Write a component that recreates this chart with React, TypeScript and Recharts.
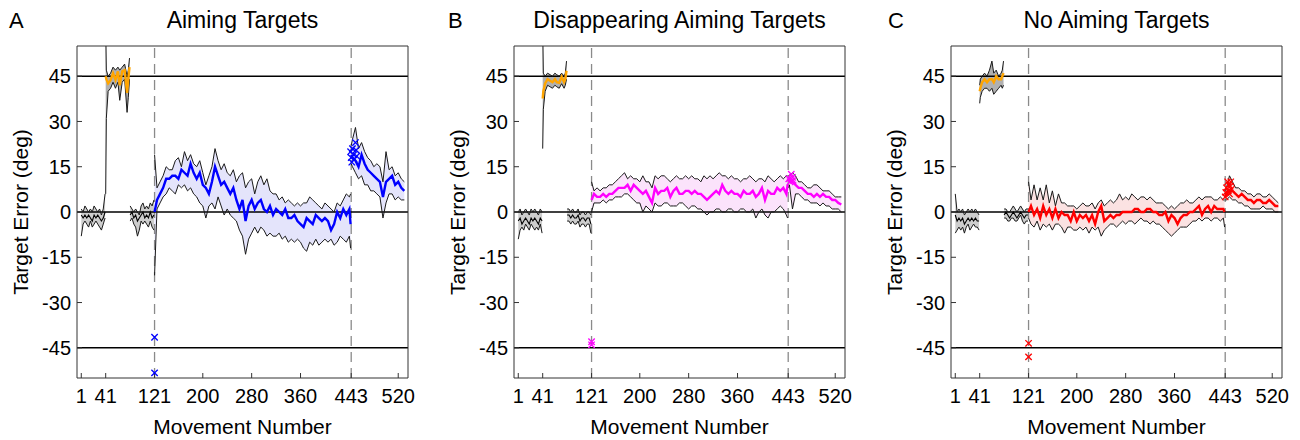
import {
  Area,
  ComposedChart,
  Line,
  ReferenceLine,
  Scatter,
  XAxis,
  YAxis,
} from "recharts";

const FONT = "'Liberation Sans', Arial, Helvetica, sans-serif";

const movementTicks = [1, 41, 121, 200, 280, 360, 443, 520];
const errorTicks = [-45, -30, -15, 0, 15, 30, 45];

// movement numbers sampled in each phase
const base1X = [1, 4, 7, 10, 13, 16, 19, 22, 25, 28, 31, 34, 37, 40];
const aimX = [41, 42, 45, 49, 53, 57, 61, 64, 68, 72, 76, 78, 80];
const base2X = [81, 84, 87, 90, 93, 96, 99, 102, 105, 108, 111, 114, 117, 120];
const rotX = [
  121, 125, 130, 135, 140, 145, 150, 155, 160, 165,
  170, 175, 180, 185, 190, 195, 200, 205, 210, 215,
  220, 225, 230, 235, 240, 245, 250, 255, 260, 265,
  270, 275, 280, 285, 290, 295, 300, 305, 310, 315,
  320, 325, 330, 335, 340, 345, 350, 355, 360, 365,
  370, 375, 380, 385, 390, 395, 400, 405, 410, 415,
  420, 425, 430, 435, 440, 442,
];
const washX = [443, 445, 450, 455, 460, 465, 470, 475, 480, 485, 490, 495, 500, 505, 510, 515, 520, 525, 530];

// ---- A: Aiming Targets ----
const aBase1Mean = [-1, -2, -1, -2, -1, -2, -3, -1, -2, -1, -2, -3, -2, 0];
const aBase1Hi = [1, 0, 2, 1, 0, 1, 0, 2, 1, 0, 1, -1, 1, 6];
const aBase1Lo = [-8, -4, -3, -4, -5, -3, -5, -4, -3, -4, -5, -6, -4, -2];
const aAimMean = [45, 44, 42.6, 43.7, 46, 43.7, 46.6, 42, 46.6, 47, 39.5, 44, 48];
const aAimHi = [62, 47, 45, 46, 48, 47, 48, 47, 48, 49, 45, 47, 51];
const aAimLo = [6, 31, 40, 41, 43, 41, 43, 37, 43, 44, 33, 38, 44];
const aBase2Mean = [-1, 0, -2, -1, -3, -2, -1, 0, -2, -1, -2, 0, -2, -1];
const aBase2Hi = [2, 1, 0, 1, 0, -1, 2, 3, 1, 2, 1, 3, 2, 4];
const aBase2Lo = [-3, -2, -4, -5, -8, -6, -3, -4, -3, -4, -5, -3, -5, -6];
const aRotMean = [
  0, 4, 6, 8, 11, 11, 12, 12, 11, 14,
  13, 12, 16, 13, 11, 13, 9, 8, 6, 10,
  15, 12, 9, 10, 8, 6, 8, 4, 1, 4,
  -3, 2, 4, 1, 3, 4, 1, 0, 2, -1,
  1, 0, -1, 1, -2, -2, -1, -3, -4, -5,
  -2, -3, -4, -1, -2, -3, -2, -3, -6, -4,
  0, -2, 1, -1, 1, -4,
];
const aRotHi = [
  19, 8, 10, 12, 15, 14, 14, 17, 18, 15,
  20, 17, 19, 16, 15, 17, 13, 9, 12, 15,
  21, 17, 14, 16, 13, 12, 14, 10, 12, 13,
  8, 10, 11, 6, 10, 12, 9, 11, 7, 6,
  6, 4, 5, 3, 4, 3, 2, 3, 2, 3,
  3, 5, 4, 3, 2, 1, 3, 2, 1, 0,
  3, 2, 4, 6, 5, 6,
];
const aRotLo = [
  -21, 1, 3, 5, 6, 8, 7, 6, 9, 8,
  9, 7, 8, 6, 5, 3, 2, -2, 2, 3,
  1, 5, 2, -1, 1, -1, -2, -3, -6, -8,
  -14, -9, -7, -5, -7, -5, -6, -8, -7, -8,
  -8, -7, -9, -8, -10, -9, -10, -9, -10, -12,
  -13, -10, -11, -9, -11, -10, -9, -10, -9, -11,
  -10, -8, -9, -10, -8, -12,
];
const aWashMean = [19, 18, 17, 15, 19, 16, 14, 13, 12, 11, 10, 5, 10, 11, 12, 9, 10, 8, 7];
const aWashHi = [22, 24, 28, 21, 23, 20, 18, 17, 15, 16, 15, 10, 20, 14, 15, 12, 13, 11, 10];
const aWashLo = [16, 15, 13, 11, 12, 9, 9, 7, 7, 6, 5, -2, 3, 6, 6, 4, 5, 4, 4];
const aMarkX = [121, 121, 442, 443, 444, 445, 447, 448, 450, 451, 452];
const aMarkY = [-41.5, -53.3, 20, 18, 16.5, 21, 19, 17.5, 23, 20.5, 18.5];

// ---- B: Disappearing Aiming Targets ----
const bBase1Mean = [-3, -2, -4, -3, -2, -3, -4, -2, -3, -2, -3, -4, -2, -3];
const bBase1Hi = [0, 1, -1, 0, 1, 0, -1, 1, 0, 1, 0, -1, 1, 0];
const bBase1Lo = [-9, -6, -5, -6, -4, -5, -6, -4, -5, -6, -5, -6, -4, -7];
const bAimMean = [37.6, 40, 42.6, 44, 43.5, 43, 44, 43, 42.8, 44.8, 43, 44, 46.8];
const bAimHi = [62, 46, 45, 46, 45.5, 45, 46, 45.5, 45, 46, 45, 46, 50];
const bAimLo = [21, 34, 40, 42, 41.5, 41, 42, 41.5, 41, 42.5, 41, 42, 44];
const bBase2Mean = [-1, -1, -2, -1, -2, -2, -1, -3, -2, -2, -3, -2, -2, -4];
const bBase2Hi = [1, 1, 0, 1, 0, 0, 1, -1, 0, 0, -1, 0, 0, -1];
const bBase2Lo = [-3, -3, -4, -3, -4, -4, -3, -5, -4, -4, -5, -4, -4, -7];
const bRotMean = [
  4, 6, 5, 5, 6, 5, 6, 6, 7, 8,
  8, 8, 9, 7, 9, 8, 7, 6, 7, 5,
  3, 8, 6, 7, 7, 8, 5, 7, 8, 6,
  6, 7, 7, 6, 7, 6, 6, 5, 4, 5,
  6, 7, 6, 9, 7, 6, 7, 6, 6, 5,
  7, 6, 6, 7, 5, 6, 8, 4, 7, 6,
  6, 8, 7, 8, 6, 9,
];
const bRotHi = [
  10, 7, 8, 7, 8, 8, 9, 9, 10, 11,
  12, 13, 11, 12, 11, 11, 10, 12, 10, 10,
  8, 12, 11, 12, 12, 11, 10, 11, 12, 11,
  11, 12, 11, 12, 11, 11, 10, 12, 11, 12,
  11, 12, 13, 12, 12, 11, 12, 11, 11, 10,
  11, 11, 12, 11, 10, 11, 11, 10, 12, 11,
  10, 11, 12, 11, 12, 12,
];
const bRotLo = [
  0, 3, 3, 3, 4, 3, 4, 4, 5, 5,
  5, 6, 6, 5, 4, 3, 3, 0, 2, 1,
  0, 3, 2, 2, 3, 3, 2, 2, 2, 3,
  3, 2, 1, 2, 2, 1, 1, 0, -1, 0,
  0, 1, 1, 0, 0, 1, 1, 0, 0, 1,
  1, 0, 0, 1, -2, 0, 1, -1, -2, 0,
  0, 1, 2, 1, -1, -2,
];
const bWashMean = [10, 11, 10, 9, 8, 8, 7, 6, 6, 5, 6, 5, 6, 5, 5, 4, 4, 3, 2.5];
const bWashHi = [12, 12, 13, 12, 10, 10, 9, 8, 8, 9, 9, 8, 7, 7, 7, 6, 5, 5, 5];
const bWashLo = [8, 9, 1, 6, 6, 5, 4, 4, 3, 3, 3, 2, 3, 2, 2, 1, 1, 1, 0];
const bMarkX = [121, 121, 444, 446, 448, 450, 451];
const bMarkY = [-43, -44, 11, 10, 12.5, 11.5, 10.5];

// ---- C: No Aiming Targets ----
const cBase1Mean = [-1, -3, -2, -3, -2, -4, -3, -2, -3, -2, -3, -2, -3, -3];
const cBase1Hi = [6, 0, 1, 0, 1, -1, 0, 1, 0, 1, 0, 1, 0, -1];
const cBase1Lo = [-7, -6, -5, -6, -5, -7, -5, -4, -6, -5, -4, -5, -5, -6];
const cAimMean = [40, 41, 43, 44, 43, 44, 44, 43, 45, 44, 44, 45, 46];
const cAimHi = [42, 44, 45, 46, 45, 47, 50, 46, 47, 45, 46, 47, 50];
const cAimLo = [36, 38, 40, 41, 41, 40, 41, 39, 40, 41, 42, 41, 42];
const cBase2Mean = [-1, 0, -1, -2, -1, 0, -1, -2, -1, 0, -1, -2, -1, -1];
const cBase2Hi = [1, 1, 0, 0, 1, 2, 1, 0, 1, 2, 1, 0, 1, 1];
const cBase2Lo = [-2, -2, -3, -3, -2, -2, -3, -3, -2, -1, -3, -4, -3, -3];
const cRotMean = [
  0, 2, -1, 1, -2, 2, -1, 1, -2, 1,
  -2, 0, -1, -1, -3, 0, -3, -1, -2, -1,
  -3, -1, -4, 0, 2, -3, -2, -1, -2, -1,
  -1, 0, 0, 0, 0, 1, 1, 0, 0, 1,
  1, 0, 0, -1, -1, 0, -3, -1, -2, -4,
  -2, -1, -1, 0, 0, 1, 2, -1, 1, 2,
  0, 2, 1, 1, 1, 0,
];
const cRotHi = [
  10, 4, 9, 4, 8, 4, 9, 3, 7, 2,
  6, 3, 3, 2, 2, 2, 1, 2, 3, 2,
  2, 3, 1, 3, 4, 2, 3, 4, 3, 4,
  6, 4, 5, 4, 6, 5, 4, 5, 5, 4,
  5, 4, 3, 3, 3, 2, 1, 2, 1, 2,
  3, 3, 4, 3, 3, 4, 5, 4, 5, 5,
  5, 4, 4, 5, 4, 4,
];
const cRotLo = [
  -2, -4, -5, -3, -6, -4, -5, -4, -6, -4,
  -4, -5, -7, -5, -5, -6, -6, -5, -6, -5,
  -7, -5, -6, -5, -8, -6, -5, -4, -4, -5,
  -4, -3, -4, -3, -3, -4, -3, -2, -3, -3,
  -4, -3, -4, -4, -5, -6, -7, -8, -7, -6,
  -5, -5, -5, -4, -3, -3, -2, -3, -2, -2,
  -3, -2, -2, -3, -2, -5,
];
const cWashMean = [5, 6, 7, 7, 6, 5, 6, 5, 4, 4, 3, 4, 4, 3, 3, 4, 3, 2, 2];
const cWashHi = [7, 8, 12, 10, 8, 8, 7, 7, 6, 6, 5, 6, 6, 5, 5, 6, 5, 4, 3];
const cWashLo = [4, 4, 5, 4, 4, 3, 3, 2, 2, 1, 1, 1, 1, 2, 1, 1, 1, 0, 0];
const cMarkX = [121, 121, 443, 444, 445, 447, 448, 449, 450, 451, 452, 453];
const cMarkY = [-43.5, -48, 5, 6.5, 8, 10, 7, 9, 6, 8.5, 10, 7.5];

type Phase = { xs: number[]; mean: number[]; hi: number[]; lo: number[]; kind: string };

function buildRows(phases: Phase[]) {
  const rows: any[] = [];
  phases.forEach((p, pi) => {
    // empty row so lines and bands break between phases
    if (pi > 0) rows.push({ x: p.xs[0] - 0.5 });
    p.xs.forEach((x, i) => {
      rows.push({
        x,
        hi: p.hi[i],
        lo: p.lo[i],
        ["band_" + p.kind]: [p.lo[i], p.hi[i]],
        ["mean_" + p.kind]: p.mean[i],
      });
    });
  });
  return rows;
}

function phasesFor(m: number[][]): Phase[] {
  return [
    { xs: base1X, mean: m[0], hi: m[1], lo: m[2], kind: "base" },
    { xs: aimX, mean: m[3], hi: m[4], lo: m[5], kind: "aim" },
    { xs: base2X, mean: m[6], hi: m[7], lo: m[8], kind: "base" },
    { xs: rotX, mean: m[9], hi: m[10], lo: m[11], kind: "main" },
    { xs: washX, mean: m[12], hi: m[13], lo: m[14], kind: "main" },
  ];
}

const panels = [
  {
    letter: "A",
    letterX: 9,
    title: "Aiming Targets",
    color: "#0000ff",
    fill: "#e4e4fb",
    rows: buildRows(
      phasesFor([
        aBase1Mean, aBase1Hi, aBase1Lo, aAimMean, aAimHi, aAimLo,
        aBase2Mean, aBase2Hi, aBase2Lo, aRotMean, aRotHi, aRotLo,
        aWashMean, aWashHi, aWashLo,
      ])
    ),
    marks: aMarkX.map((x, i) => ({ x, y: aMarkY[i] })),
  },
  {
    letter: "B",
    letterX: 11,
    title: "Disappearing Aiming Targets",
    color: "#ff00ff",
    fill: "#fbe3fb",
    rows: buildRows(
      phasesFor([
        bBase1Mean, bBase1Hi, bBase1Lo, bAimMean, bAimHi, bAimLo,
        bBase2Mean, bBase2Hi, bBase2Lo, bRotMean, bRotHi, bRotLo,
        bWashMean, bWashHi, bWashLo,
      ])
    ),
    marks: bMarkX.map((x, i) => ({ x, y: bMarkY[i] })),
  },
  {
    letter: "C",
    letterX: 14,
    title: "No Aiming Targets",
    color: "#ff0000",
    fill: "#fbe2e2",
    rows: buildRows(
      phasesFor([
        cBase1Mean, cBase1Hi, cBase1Lo, cAimMean, cAimHi, cAimLo,
        cBase2Mean, cBase2Hi, cBase2Lo, cRotMean, cRotHi, cRotLo,
        cWashMean, cWashHi, cWashLo,
      ])
    ),
    marks: cMarkX.map((x, i) => ({ x, y: cMarkY[i] })),
  },
];

const PANEL_W = 437;
const PLOT_L = 77;
const PLOT_W = 331;
const PLOT_T = 46;
const PLOT_H = 332;

function Cross(props: any) {
  const { cx, cy, fill } = props;
  const s = 3.2;
  return (
    <g>
      <line x1={cx - s} y1={cy - s} x2={cx + s} y2={cy + s} stroke={fill} strokeWidth={1.3} />
      <line x1={cx - s} y1={cy + s} x2={cx + s} y2={cy - s} stroke={fill} strokeWidth={1.3} />
    </g>
  );
}

function Panel({ p, index }: { p: any; index: number }) {
  const tickStyle = { fill: "#000", fontSize: 20, fontFamily: FONT };
  return (
    <div style={{ position: "absolute", left: index * PANEL_W, top: 0, width: PANEL_W, height: 440 }}>
      <ComposedChart
        width={PANEL_W}
        height={440}
        data={p.rows}
        margin={{ top: PLOT_T - 1, right: PANEL_W - PLOT_L - PLOT_W - 1, bottom: 440 - PLOT_T - PLOT_H - 30, left: PLOT_L - 30 }}
      >
        <XAxis
          dataKey="x"
          type="number"
          domain={[-6, 536]}
          allowDataOverflow
          ticks={movementTicks}
          interval={0}
          height={30}
          tickSize={-5}
          tickMargin={16}
          stroke="#333"
          tick={tickStyle}
        />
        <XAxis
          xAxisId="top"
          orientation="top"
          dataKey="x"
          type="number"
          domain={[-6, 536]}
          allowDataOverflow
          ticks={movementTicks}
          interval={0}
          height={1}
          tickSize={-5}
          stroke="#333"
          tick={false}
        />
        <YAxis
          type="number"
          domain={[-55, 55]}
          allowDataOverflow
          ticks={errorTicks}
          interval={0}
          width={30}
          tickSize={-5}
          tickMargin={11}
          stroke="#333"
          tick={tickStyle}
        />
        <YAxis
          yAxisId="right"
          orientation="right"
          type="number"
          domain={[-55, 55]}
          allowDataOverflow
          ticks={errorTicks}
          interval={0}
          width={1}
          tickSize={-5}
          stroke="#333"
          tick={false}
        />
        <ReferenceLine x={121} stroke="#8a8a8a" strokeWidth={1.3} strokeDasharray="10 6" />
        <ReferenceLine x={443} stroke="#8a8a8a" strokeWidth={1.3} strokeDasharray="10 6" />
        <Area type="linear" dataKey="band_base" stroke="none" fill="#cdcdcd" fillOpacity={1} isAnimationActive={false} />
        <Area type="linear" dataKey="band_aim" stroke="none" fill="#b0b0b0" fillOpacity={1} isAnimationActive={false} />
        <Area type="linear" dataKey="band_main" stroke="none" fill={p.fill} fillOpacity={1} isAnimationActive={false} />
        <ReferenceLine y={45} stroke="#000" strokeWidth={1.6} />
        <ReferenceLine y={0} stroke="#000" strokeWidth={1.6} />
        <ReferenceLine y={-45} stroke="#000" strokeWidth={1.6} />
        <Line type="linear" dataKey="hi" stroke="#1a1a1a" strokeWidth={1} dot={false} isAnimationActive={false} />
        <Line type="linear" dataKey="lo" stroke="#1a1a1a" strokeWidth={1} dot={false} isAnimationActive={false} />
        <Line type="linear" dataKey="mean_base" stroke="#000" strokeWidth={1.1} dot={false} isAnimationActive={false} />
        <Line type="linear" dataKey="mean_aim" stroke="#ffa500" strokeWidth={2.4} dot={false} isAnimationActive={false} />
        <Line type="linear" dataKey="mean_main" stroke={p.color} strokeWidth={2.4} dot={false} isAnimationActive={false} />
        <Scatter data={p.marks} dataKey="y" fill={p.color} shape={<Cross />} isAnimationActive={false} />
      </ComposedChart>
    </div>
  );
}

export default function App() {
  return (
    <div style={{ position: "absolute", left: 0, top: 0, width: 1300, height: 440, background: "#fff" }}>
      {panels.map((p, i) => (
        <Panel key={p.letter} p={p} index={i} />
      ))}
      <svg
        width={1300}
        height={440}
        style={{ position: "absolute", left: 0, top: 0, pointerEvents: "none" }}
        fontFamily={FONT}
      >
        {panels.map((p, i) => {
          const left = i * PANEL_W;
          const cx = left + PLOT_L + PLOT_W / 2;
          const cy = PLOT_T + PLOT_H / 2;
          return (
            <g key={p.letter}>
              <text x={left + p.letterX} y={28} fontSize={22}>
                {p.letter}
              </text>
              <text x={cx} y={28} fontSize={23} textAnchor="middle">
                {p.title}
              </text>
              <text x={cx} y={434} fontSize={21} textAnchor="middle">
                Movement Number
              </text>
              <text
                x={left + 28}
                y={cy}
                fontSize={21}
                textAnchor="middle"
                transform={`rotate(-90 ${left + 28} ${cy})`}
              >
                Target Error (deg)
              </text>
            </g>
          );
        })}
      </svg>
    </div>
  );
}
